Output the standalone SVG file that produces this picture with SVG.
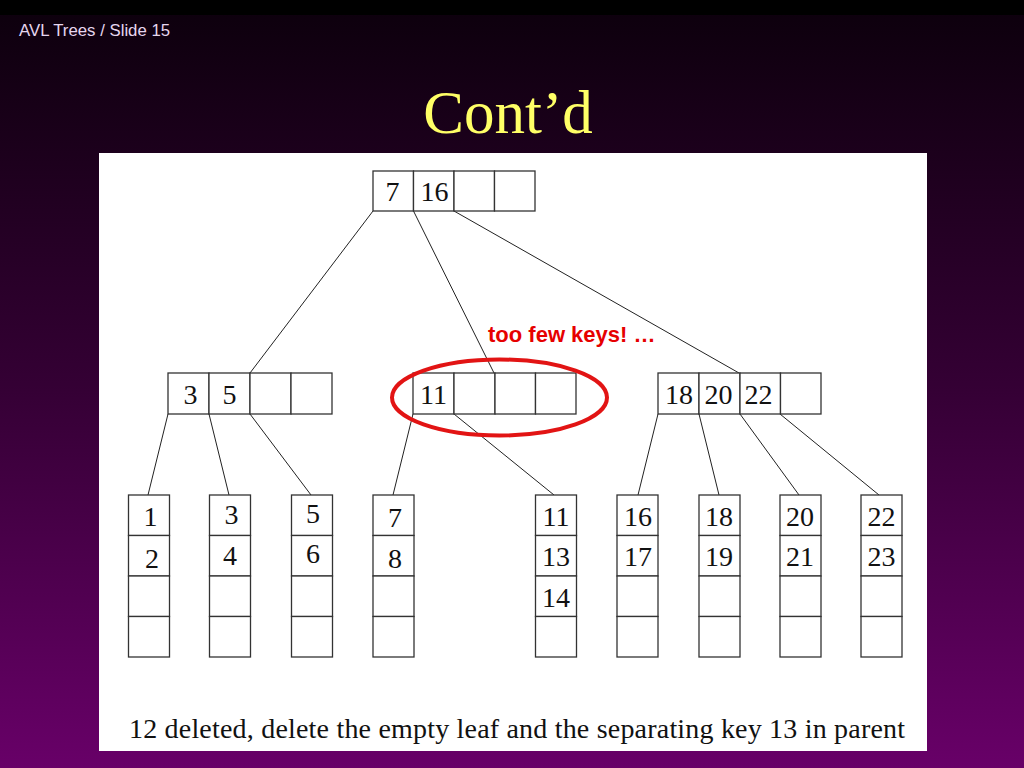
<svg xmlns="http://www.w3.org/2000/svg" width="1024" height="768" viewBox="0 0 1024 768">
<defs>
<linearGradient id="bg" x1="0" y1="0" x2="0" y2="1">
<stop offset="0" stop-color="#0c000c"/>
<stop offset="0.5" stop-color="#340034"/>
<stop offset="1" stop-color="#680068"/>
</linearGradient>
<style>
.cell{fill:#ffffff;stroke:#333333;stroke-width:1.3}
.k{font-family:"Liberation Serif","Times New Roman",serif;font-size:28px;fill:#111111;text-anchor:middle}
.c{stroke:#222222;stroke-width:1;fill:none}
</style>
</defs>
<rect x="0" y="0" width="1024" height="768" fill="url(#bg)"/>
<rect x="0" y="0" width="1024" height="15" fill="#000000"/>
<text x="19" y="36" font-family="Liberation Sans, Arial, sans-serif" font-size="16.8" fill="#e6d6ee">AVL Trees / Slide 15</text>
<text x="508" y="133" font-family="Liberation Serif, Times New Roman, serif" font-size="61" fill="#ffff66" text-anchor="middle">Cont’d</text>
<rect x="99" y="153" width="828" height="598" fill="#ffffff"/>

<g id="connectors">
<line class="c" x1="373" y1="211" x2="250" y2="373"/>
<line class="c" x1="413.5" y1="211" x2="494" y2="373"/>
<line class="c" x1="454" y1="211" x2="739" y2="373"/>
<line class="c" x1="168" y1="414" x2="148" y2="495"/>
<line class="c" x1="209" y1="414" x2="229" y2="495"/>
<line class="c" x1="250" y1="414" x2="311" y2="495"/>
<line class="c" x1="413" y1="414" x2="393" y2="495"/>
<line class="c" x1="454" y1="414" x2="554" y2="495"/>
<line class="c" x1="658" y1="414" x2="638" y2="495"/>
<line class="c" x1="699" y1="414" x2="719" y2="495"/>
<line class="c" x1="740" y1="414" x2="799" y2="495"/>
<line class="c" x1="780" y1="414" x2="879" y2="495"/>
</g>

<g id="root">
<rect class="cell" x="373" y="171" width="40.5" height="40"/>
<rect class="cell" x="413.5" y="171" width="40.5" height="40"/>
<rect class="cell" x="454" y="171" width="40.5" height="40"/>
<rect class="cell" x="494.5" y="171" width="40.5" height="40"/>
<text class="k" x="392.5" y="201">7</text>
<text class="k" x="434.5" y="201">16</text>
</g>

<g id="n35">
<rect class="cell" x="168" y="373" width="41" height="41"/>
<rect class="cell" x="209" y="373" width="41" height="41"/>
<rect class="cell" x="250" y="373" width="41" height="41"/>
<rect class="cell" x="291" y="373" width="41" height="41"/>
<text class="k" x="190.5" y="404">3</text>
<text class="k" x="229.5" y="404">5</text>
</g>

<g id="n11">
<rect class="cell" x="413" y="373" width="41" height="41"/>
<rect class="cell" x="454" y="373" width="41" height="41"/>
<rect class="cell" x="495" y="373" width="40.5" height="41"/>
<rect class="cell" x="535.5" y="373" width="40.5" height="41"/>
<text class="k" x="433.5" y="404">11</text>
</g>

<g id="n182022">
<rect class="cell" x="658" y="373" width="41" height="41"/>
<rect class="cell" x="699" y="373" width="41" height="41"/>
<rect class="cell" x="740" y="373" width="40.5" height="41"/>
<rect class="cell" x="780.5" y="373" width="40.5" height="41"/>
<text class="k" x="679" y="404">18</text>
<text class="k" x="718.5" y="404">20</text>
<text class="k" x="758.5" y="404">22</text>
</g>

<g id="leaf1">
<rect class="cell" x="128.5" y="495" width="41" height="40.5"/>
<rect class="cell" x="128.5" y="535.5" width="41" height="40.5"/>
<rect class="cell" x="128.5" y="576" width="41" height="40.5"/>
<rect class="cell" x="128.5" y="616.5" width="41" height="40.5"/>
<text class="k" x="150.5" y="526">1</text>
<text class="k" x="152" y="568">2</text>
</g>
<g id="leaf2">
<rect class="cell" x="209.5" y="495" width="41" height="40.5"/>
<rect class="cell" x="209.5" y="535.5" width="41" height="40.5"/>
<rect class="cell" x="209.5" y="576" width="41" height="40.5"/>
<rect class="cell" x="209.5" y="616.5" width="41" height="40.5"/>
<text class="k" x="231.5" y="524">3</text>
<text class="k" x="230" y="565">4</text>
</g>
<g id="leaf3">
<rect class="cell" x="291.5" y="495" width="41" height="40.5"/>
<rect class="cell" x="291.5" y="535.5" width="41" height="40.5"/>
<rect class="cell" x="291.5" y="576" width="41" height="40.5"/>
<rect class="cell" x="291.5" y="616.5" width="41" height="40.5"/>
<text class="k" x="313" y="523">5</text>
<text class="k" x="313" y="563">6</text>
</g>
<g id="leaf4">
<rect class="cell" x="373" y="495" width="41" height="40.5"/>
<rect class="cell" x="373" y="535.5" width="41" height="40.5"/>
<rect class="cell" x="373" y="576" width="41" height="40.5"/>
<rect class="cell" x="373" y="616.5" width="41" height="40.5"/>
<text class="k" x="395" y="527">7</text>
<text class="k" x="395" y="568">8</text>
</g>
<g id="leaf5">
<rect class="cell" x="535.5" y="495" width="41" height="40.5"/>
<rect class="cell" x="535.5" y="535.5" width="41" height="40.5"/>
<rect class="cell" x="535.5" y="576" width="41" height="40.5"/>
<rect class="cell" x="535.5" y="616.5" width="41" height="40.5"/>
<text class="k" x="556" y="526">11</text>
<text class="k" x="556" y="566">13</text>
<text class="k" x="556" y="607">14</text>
</g>
<g id="leaf6">
<rect class="cell" x="617" y="495" width="41" height="40.5"/>
<rect class="cell" x="617" y="535.5" width="41" height="40.5"/>
<rect class="cell" x="617" y="576" width="41" height="40.5"/>
<rect class="cell" x="617" y="616.5" width="41" height="40.5"/>
<text class="k" x="638" y="526">16</text>
<text class="k" x="638" y="566">17</text>
</g>
<g id="leaf7">
<rect class="cell" x="699" y="495" width="41" height="40.5"/>
<rect class="cell" x="699" y="535.5" width="41" height="40.5"/>
<rect class="cell" x="699" y="576" width="41" height="40.5"/>
<rect class="cell" x="699" y="616.5" width="41" height="40.5"/>
<text class="k" x="719" y="526">18</text>
<text class="k" x="719" y="566">19</text>
</g>
<g id="leaf8">
<rect class="cell" x="780" y="495" width="41" height="40.5"/>
<rect class="cell" x="780" y="535.5" width="41" height="40.5"/>
<rect class="cell" x="780" y="576" width="41" height="40.5"/>
<rect class="cell" x="780" y="616.5" width="41" height="40.5"/>
<text class="k" x="800" y="526">20</text>
<text class="k" x="800" y="566">21</text>
</g>
<g id="leaf9">
<rect class="cell" x="861" y="495" width="41" height="40.5"/>
<rect class="cell" x="861" y="535.5" width="41" height="40.5"/>
<rect class="cell" x="861" y="576" width="41" height="40.5"/>
<rect class="cell" x="861" y="616.5" width="41" height="40.5"/>
<text class="k" x="881.5" y="526">22</text>
<text class="k" x="881.5" y="566">23</text>
</g>

<g id="annotation">
<ellipse cx="499.5" cy="397.5" rx="107.5" ry="38" fill="none" stroke="#e21414" stroke-width="4"/>
<text x="488" y="342" font-family="Liberation Sans, Arial, sans-serif" font-size="22" font-weight="bold" fill="#e60000">too few keys! …</text>
</g>

<text x="129" y="738" font-family="Liberation Serif, Times New Roman, serif" font-size="28" fill="#111111" textLength="776" lengthAdjust="spacing">12 deleted, delete the empty leaf and the separating key 13 in parent</text>
</svg>
